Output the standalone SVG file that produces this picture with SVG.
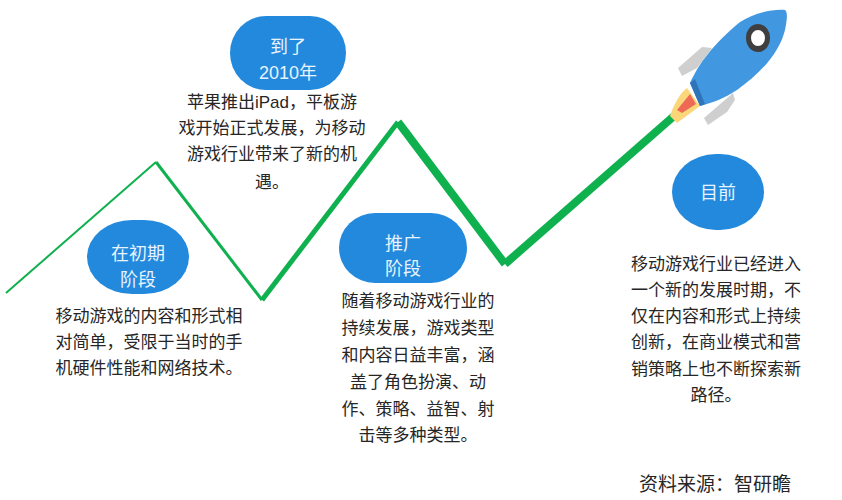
<svg xmlns="http://www.w3.org/2000/svg" width="842" height="500" viewBox="0 0 842 500">
<style>
text{font-family:"Liberation Sans","Noto Sans CJK SC",sans-serif;text-anchor:middle;fill:#262626}
.b{font-size:17px}
.w{font-size:18px;fill:#e8f4fd}
.e{fill:#2389dd}
.l{fill:none;stroke:#0fb14f;stroke-linejoin:miter}
</style>
<rect width="842" height="500" fill="#fff"/>
<g id="connectors">
<path class="l" stroke-width="2" d="M6 293L156 162"/>
<path class="l" stroke-width="3" d="M156 162L262 300"/>
<path class="l" stroke-width="5" d="M262 300L398 122"/>
<path class="l" stroke-width="8" d="M398 122L505 264"/>
<path class="l" stroke-width="8" d="M505 264L674 116"/>
</g>
<g id="rocket">
<path d="M678 68L702 47L712 48L697 68L682 76Z" fill="#cfcfcf"/>
<path d="M704 118L733 93L735 100L727 112L708 125Z" fill="#cfcfcf"/>
<path d="M670 116C674 104 680 93 687 88L700 106L677 123Z" fill="#fbd77a"/>
<path d="M677 110L690 94L696 104L682 113Z" fill="#ef6a55"/>
<path d="M690 83C698 65 712 45 740 22C752 14 770 9 785 10C788 12 787 20 785 30C780 50 765 70 737 90C725 98 712 103 700 106Z" fill="#4298e0"/>
<path d="M690 83L700 106L705 104L695 79Z" fill="#2f74b8"/>
<ellipse cx="758" cy="38" rx="12" ry="14" fill="#3f3f3f"/>
<ellipse cx="758" cy="38" rx="7" ry="8" fill="#fff"/>
</g>
<g id="node-early"><rect class="e" x="87" y="220" width="102" height="74" rx="45" ry="37"/><text class="w" x="138" y="260">在初期</text><text class="w" x="138" y="286">阶段</text>
<text class="b" x="149" y="322">移动游戏的内容和形式相</text><text class="b" x="149" y="348">对简单，受限于当时的手</text><text class="b" x="149" y="374">机硬件性能和网络技术。</text></g>
<g id="node-2010"><rect class="e" x="230" y="16" width="116" height="74" rx="36" ry="37"/><text class="w" x="288" y="53">到了</text><text class="w" x="288" y="79">2010年</text>
<text class="b" x="272" y="108">苹果推出iPad，平板游</text><text class="b" x="272" y="134">戏开始正式发展，为移动</text><text class="b" x="272" y="160">游戏行业带来了新的机</text><text class="b" x="272" y="188">遇。</text></g>
<g id="node-promo"><rect class="e" x="339" y="213" width="128" height="70" rx="36" ry="35"/><text class="w" x="403" y="250">推广</text><text class="w" x="403" y="275">阶段</text>
<text class="b" x="418" y="307">随着移动游戏行业的</text><text class="b" x="418" y="334">持续发展，游戏类型</text><text class="b" x="418" y="361">和内容日益丰富，涵</text><text class="b" x="418" y="388">盖了角色扮演、动</text><text class="b" x="418" y="415">作、策略、益智、射</text><text class="b" x="418" y="441">击等多种类型。</text></g>
<g id="node-now"><rect class="e" x="672" y="154" width="92" height="76" rx="44" ry="38"/><text class="w" x="718" y="199">目前</text>
<text class="b" x="716" y="270">移动游戏行业已经进入</text><text class="b" x="716" y="296">一个新的发展时期，不</text><text class="b" x="716" y="322">仅在内容和形式上持续</text><text class="b" x="716" y="348">创新，在商业模式和营</text><text class="b" x="716" y="375">销策略上也不断探索新</text><text class="b" x="716" y="401">路径。</text></g>
<text id="source" x="715" y="491" font-size="19">资料来源：智研瞻</text>
</svg>
